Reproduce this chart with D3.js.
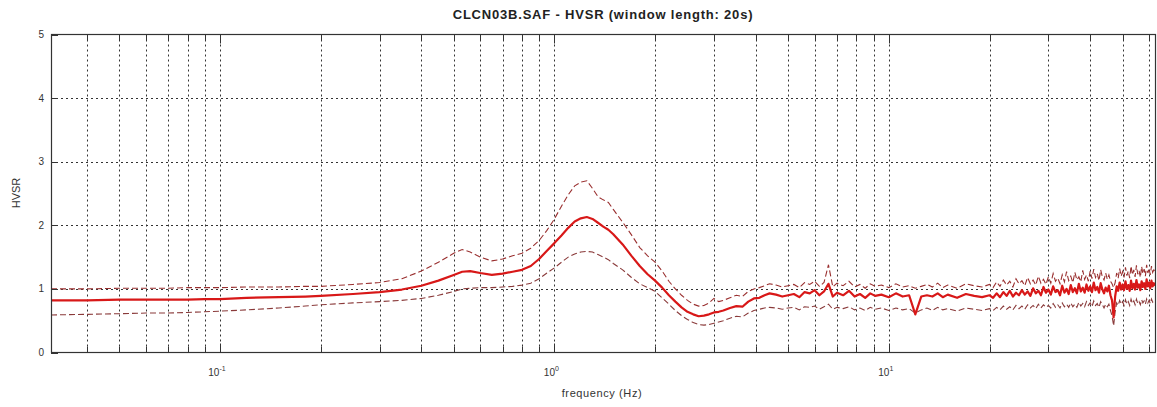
<!DOCTYPE html>
<html><head><meta charset="utf-8">
<script src="https://cdn.jsdelivr.net/npm/d3@7"></script>
<style>body{margin:0;background:#fff;} text{font-family:"Liberation Sans",Arial,sans-serif;}</style>
</head><body><svg id="c" width="1157" height="407"></svg>
<script>
const title = "CLCN03B.SAF - HVSR (window length: 20s)";
const xLabel = "frequency (Hz)";
const yLabel = "HVSR";
const yTicks = [0, 1, 2, 3, 4, 5];
const yGrid = [1, 2, 3, 4];
const xMajor = [0.1, 1, 10];
const xMajorExp = ["-1", "0", "1"];
const xDomain = [0.03125, 62.5];

const freq = [
  0.03125, 0.04, 0.05, 0.06, 0.07, 0.08, 0.09, 0.1, 0.12, 0.15,
  0.18, 0.2, 0.25, 0.3, 0.35, 0.4, 0.45, 0.5, 0.53, 0.56,
  0.6, 0.65, 0.7, 0.75, 0.8, 0.85, 0.9, 0.95, 1.0, 1.05,
  1.1, 1.15, 1.2, 1.25, 1.3, 1.35, 1.4, 1.45, 1.5, 1.6,
  1.7, 1.8, 1.9, 2.0, 2.1, 2.2, 2.3, 2.4, 2.5, 2.6,
  2.7, 2.8, 2.9, 3.0, 3.1, 3.2, 3.35, 3.5, 3.65, 3.8,
  3.95, 4.1, 4.25, 4.4, 4.6, 4.8, 5.0, 5.2, 5.4, 5.6,
  5.8, 6.0, 6.2, 6.4, 6.6, 6.8, 7.0, 7.3, 7.6, 7.9,
  8.2, 8.5, 8.8, 9.1, 9.5, 10, 10.5, 11, 11.5, 12,
  12.5, 13, 13.5, 14, 14.5, 15, 16, 17, 18, 19,
  20, 20.5, 21, 21.5, 22, 22.5, 23, 23.5, 24, 24.5,
  25, 25.5, 26, 26.5, 27, 27.5, 28, 28.5, 29, 29.5,
  30, 30.5, 31, 31.5, 32, 32.5, 33, 33.5, 34, 34.5,
  35, 35.5, 36, 36.5, 37, 37.5, 38, 38.5, 39, 39.5,
  40, 40.5, 41, 41.5, 42, 42.5, 43, 43.5, 44, 44.5,
  45, 45.5, 46, 46.5, 47, 47.5, 48, 48.5, 49, 49.5,
  50, 50.5, 51, 51.5, 52, 52.5, 53, 53.5, 54, 54.5,
  55, 55.5, 56, 56.5, 57, 57.5, 58, 58.5, 59, 59.5,
  60, 60.5, 61, 61.5, 62, 62.5
];
const hvMean = [
  0.82, 0.82, 0.83, 0.83, 0.83, 0.83, 0.84, 0.84, 0.86, 0.87,
  0.88, 0.89, 0.92, 0.95, 0.99, 1.05, 1.13, 1.22, 1.27, 1.28,
  1.25, 1.22, 1.24, 1.27, 1.30, 1.36, 1.47, 1.60, 1.72, 1.84,
  1.96, 2.06, 2.11, 2.13, 2.10, 2.04, 1.98, 1.93, 1.86, 1.70,
  1.52, 1.36, 1.23, 1.13, 1.02, 0.90, 0.80, 0.71, 0.64, 0.60,
  0.57, 0.58, 0.60, 0.63, 0.64, 0.66, 0.70, 0.73, 0.72, 0.80,
  0.85, 0.86, 0.90, 0.93, 0.91, 0.88, 0.90, 0.92, 0.87, 0.95,
  0.93, 0.98, 0.90, 0.96, 1.08, 0.88, 0.94, 0.90, 0.97, 0.88,
  0.92, 0.86, 0.93, 0.89, 0.91, 0.87, 0.93, 0.88, 0.90, 0.60,
  0.88, 0.90, 0.88, 0.93, 0.87, 0.91, 0.86, 0.92, 0.89, 0.87,
  0.90, 0.86, 0.93, 0.87, 0.95, 0.89, 0.97, 0.88, 0.94, 0.90,
  0.98, 0.91, 0.96, 0.89, 1.01, 0.93, 0.97, 0.90, 1.03, 0.94,
  0.99, 0.91, 1.04, 0.95, 0.98, 0.90, 1.05, 0.94, 1.00, 0.92,
  1.06, 0.95, 1.01, 0.93, 1.08, 0.96, 1.02, 0.94, 1.07, 0.97,
  1.04, 0.95, 1.10, 0.98, 1.03, 0.94, 1.09, 0.99, 0.93, 1.02,
  0.96, 1.05, 0.90, 0.82, 0.55, 0.88, 1.04, 0.97, 1.10, 0.99,
  1.07, 0.98, 1.12, 1.00, 1.06, 0.97, 1.13, 1.01, 1.08, 0.99,
  1.14, 1.02, 1.07, 0.98, 1.12, 1.03, 1.09, 1.00, 1.15, 1.04,
  1.10, 1.01, 1.13, 1.04, 1.09, 1.05
];
const hvUpper = [
  1.00, 1.00, 1.01, 1.01, 1.01, 1.02, 1.02, 1.02, 1.03, 1.03,
  1.04, 1.04, 1.07, 1.10, 1.16, 1.28, 1.42, 1.56, 1.62, 1.58,
  1.50, 1.44, 1.47, 1.52, 1.56, 1.64, 1.76, 1.92, 2.10, 2.30,
  2.48, 2.62, 2.68, 2.70, 2.58, 2.45, 2.40, 2.36, 2.25, 2.05,
  1.85, 1.65, 1.52, 1.42, 1.28, 1.12, 1.00, 0.90, 0.82, 0.76,
  0.73, 0.74, 0.78, 0.85, 0.80, 0.82, 0.86, 0.90, 0.88, 0.96,
  1.00, 1.02, 1.05, 1.08, 1.06, 1.03, 1.05, 1.07, 1.02, 1.10,
  1.07, 1.12, 1.04, 1.10, 1.38, 1.03, 1.09, 1.05, 1.12, 1.03,
  1.07, 1.01, 1.08, 1.04, 1.06, 1.02, 1.08, 1.03, 1.05, 1.01,
  1.04, 1.07, 1.03, 1.09, 1.02, 1.06, 1.01, 1.08, 1.05, 1.03,
  1.07, 1.02, 1.11, 1.04, 1.14, 1.06, 1.12, 1.03, 1.16, 1.08,
  1.13, 1.05, 1.18, 1.08, 1.14, 1.06, 1.20, 1.09, 1.15, 1.07,
  1.19, 1.09, 1.24, 1.12, 1.17, 1.08, 1.22, 1.11, 1.27, 1.13,
  1.20, 1.10, 1.26, 1.14, 1.19, 1.11, 1.29, 1.15, 1.22, 1.12,
  1.28, 1.16, 1.31, 1.18, 1.24, 1.13, 1.30, 1.19, 1.14, 1.25,
  1.15, 1.22, 1.12, 1.08, 1.02, 1.10, 1.25, 1.17, 1.32, 1.20,
  1.27, 1.18, 1.34, 1.21, 1.28, 1.17, 1.36, 1.22, 1.30, 1.19,
  1.37, 1.23, 1.29, 1.18, 1.35, 1.24, 1.31, 1.20, 1.38, 1.25,
  1.32, 1.22, 1.36, 1.26, 1.30, 1.27
];
const hvLower = [
  0.59, 0.60, 0.61, 0.62, 0.62, 0.63, 0.64, 0.65, 0.67, 0.70,
  0.73, 0.75, 0.78, 0.80, 0.82, 0.85, 0.90, 0.96, 1.00, 1.01,
  1.02, 1.02, 1.03, 1.04, 1.06, 1.09, 1.16, 1.25, 1.33, 1.42,
  1.50, 1.55, 1.58, 1.59, 1.58, 1.54, 1.50, 1.46, 1.40, 1.30,
  1.18, 1.08, 1.02, 0.96, 0.86, 0.76, 0.66, 0.58, 0.52, 0.47,
  0.44, 0.43, 0.44, 0.46, 0.48, 0.50, 0.54, 0.57, 0.56, 0.62,
  0.66, 0.68, 0.70, 0.71, 0.70, 0.68, 0.70, 0.71, 0.67, 0.72,
  0.71, 0.73, 0.68, 0.72, 0.76, 0.68, 0.71, 0.69, 0.72, 0.67,
  0.70, 0.66, 0.71, 0.68, 0.70, 0.66, 0.70, 0.67, 0.69, 0.62,
  0.67, 0.70, 0.66, 0.71, 0.67, 0.69, 0.65, 0.70, 0.68, 0.66,
  0.69, 0.66, 0.71, 0.67, 0.73, 0.68, 0.72, 0.67, 0.74, 0.69,
  0.73, 0.68, 0.75, 0.70, 0.74, 0.69, 0.76, 0.70, 0.75, 0.71,
  0.74, 0.70, 0.77, 0.71, 0.75, 0.70, 0.78, 0.72, 0.76, 0.71,
  0.78, 0.72, 0.76, 0.71, 0.79, 0.73, 0.77, 0.72, 0.80, 0.74,
  0.78, 0.72, 0.81, 0.74, 0.77, 0.71, 0.80, 0.75, 0.70, 0.76,
  0.72, 0.76, 0.66, 0.58, 0.42, 0.64, 0.78, 0.74, 0.82, 0.76,
  0.80, 0.74, 0.83, 0.76, 0.80, 0.74, 0.84, 0.77, 0.81, 0.75,
  0.84, 0.77, 0.80, 0.75, 0.83, 0.78, 0.81, 0.76, 0.84, 0.78,
  0.82, 0.77, 0.84, 0.79, 0.81, 0.80
];

const svg = d3.select("#c");
const L = 51, R = 1155, T = 34.5, B = 352.5;
const x = d3.scaleLog().domain(xDomain).range([L, R]);
const y = d3.scaleLinear().domain([0, 5]).range([B, T]);

svg.append("rect").attr("width", 1157).attr("height", 407).attr("fill", "#fff");

const gridTicks = x.ticks().filter(t => t > xDomain[0] && t < xDomain[1]);
const grid = svg.append("g").attr("stroke", "#333").attr("stroke-width", 1).attr("stroke-dasharray", "2,3");
grid.selectAll("line.v").data(gridTicks).join("line").attr("class", "v")
  .attr("x1", d => Math.round(x(d)) + 0.5).attr("x2", d => Math.round(x(d)) + 0.5)
  .attr("y1", T).attr("y2", B);
grid.selectAll("line.h").data(yGrid).join("line").attr("class", "h")
  .attr("x1", L).attr("x2", R)
  .attr("y1", d => Math.round(y(d)) + 0.5).attr("y2", d => Math.round(y(d)) + 0.5);

svg.append("clipPath").attr("id", "clip").append("rect")
  .attr("x", L).attr("y", T).attr("width", R - L).attr("height", B - T);

const pts = vals => freq.map((f, i) => [f, vals[i]]);
const line = d3.line().x(d => x(d[0])).y(d => y(d[1]));
const curves = svg.append("g").attr("clip-path", "url(#clip)").attr("fill", "none");
curves.append("path").attr("d", line(pts(hvLower)))
  .attr("stroke", "#8a3a3a").attr("stroke-width", 1.1).attr("stroke-dasharray", "6,3");
curves.append("path").attr("d", line(pts(hvUpper)))
  .attr("stroke", "#9a3030").attr("stroke-width", 1.1).attr("stroke-dasharray", "6,3");
curves.append("path").attr("d", line(pts(hvMean)))
  .attr("stroke", "#d81818").attr("stroke-width", 2.2).attr("stroke-linejoin", "round");

// box
svg.append("rect").attr("x", L + 0.5).attr("y", T).attr("width", R - L).attr("height", B - T)
  .attr("fill", "none").attr("stroke", "#333").attr("stroke-width", 1.2);

// ticks
const tk = svg.append("g").attr("stroke", "#333").attr("stroke-width", 1);
const isMajor = d => xMajor.some(m => Math.abs(m - d) < 1e-9);
tk.selectAll("line.b").data(gridTicks).join("line")
  .attr("x1", d => Math.round(x(d)) + 0.5).attr("x2", d => Math.round(x(d)) + 0.5)
  .attr("y1", B).attr("y2", d => B - (isMajor(d) ? 9 : 6));
tk.selectAll("line.t").data(gridTicks).join("line")
  .attr("x1", d => Math.round(x(d)) + 0.5).attr("x2", d => Math.round(x(d)) + 0.5)
  .attr("y1", T).attr("y2", d => T + (isMajor(d) ? 9 : 6));
tk.selectAll("line.l").data(yTicks).join("line")
  .attr("x1", L).attr("x2", L + 7)
  .attr("y1", d => Math.round(y(d)) + 0.5).attr("y2", d => Math.round(y(d)) + 0.5);

// y labels
svg.append("g").selectAll("text").data(yTicks).join("text")
  .attr("x", 44).attr("y", d => y(d)).attr("dy", "0.35em")
  .attr("text-anchor", "end").attr("font-size", 10).attr("fill", "#333")
  .text(d => d);

// x labels
const xl = svg.append("g").selectAll("text").data(xMajor).join("text")
  .attr("x", d => x(d) - 3).attr("y", 376)
  .attr("text-anchor", "middle").attr("font-size", 10).attr("fill", "#333");
xl.append("tspan").text("10");
xl.append("tspan").attr("dy", -5).attr("font-size", 7).text((d, i) => xMajorExp[i]);

svg.append("text").attr("x", 602).attr("y", 397).attr("text-anchor", "middle")
  .attr("font-size", 11).attr("letter-spacing", 0.6).attr("fill", "#333").text(xLabel);
svg.append("text").attr("transform", "translate(20,193) rotate(-90)")
  .attr("text-anchor", "middle").attr("font-size", 11).attr("fill", "#333").text(yLabel);
svg.append("text").attr("x", 603).attr("y", 19).attr("text-anchor", "middle")
  .attr("font-size", 13).attr("letter-spacing", 0.8).attr("font-weight", "bold").attr("fill", "#222").text(title);
</script></body></html>
